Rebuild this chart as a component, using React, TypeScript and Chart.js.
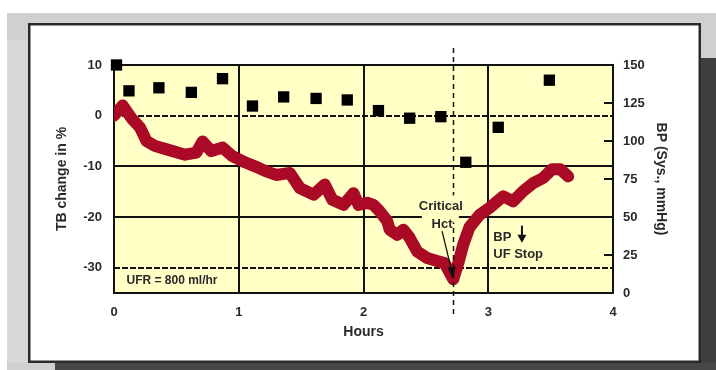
import React, { useEffect, useRef } from "react";
import { Chart, registerables } from "chart.js";

Chart.register(...registerables);

// ---- data ----
const HOURS = [
  0.0, 0.07, 0.14, 0.21, 0.26, 0.33, 0.43, 0.57, 0.66, 0.71, 0.78, 0.87, 0.95,
  1.05, 1.13, 1.22, 1.3, 1.41, 1.49, 1.6, 1.69, 1.75, 1.84, 1.92, 1.96, 2.03,
  2.08, 2.13, 2.19, 2.21, 2.27, 2.32, 2.37, 2.43, 2.51, 2.59, 2.65, 2.72, 2.76,
  2.8, 2.85, 2.93, 3.01, 3.12, 3.2, 3.28, 3.36, 3.44, 3.51, 3.58, 3.64,
];
const TB_CHANGE = [
  0.0, 2.0, -0.5, -2.4, -5.0, -6.0, -6.7, -7.7, -7.3, -5.1, -7.0, -6.3, -8.0,
  -9.2, -10.0, -11.0, -11.7, -11.3, -14.3, -15.6, -13.6, -16.6, -17.6, -15.3,
  -17.6, -17.2, -17.6, -18.9, -20.8, -22.5, -23.5, -22.5, -24.1, -26.8, -28.1,
  -28.7, -29.1, -32.3, -29.1, -25.4, -22.0, -19.6, -18.2, -15.9, -16.9, -14.9,
  -13.3, -12.3, -10.6, -10.6, -12.0,
];
const BP_HOURS = [
  0.02, 0.12, 0.36, 0.62, 0.87, 1.11, 1.36, 1.62, 1.87, 2.12, 2.37, 2.62, 2.82,
  3.08, 3.49,
];
const BP_SYS = [150, 133, 135, 132, 141, 123, 129, 128, 127, 120, 115, 116, 86, 109, 140];

const HOUR_TICKS = [0, 1, 2, 3, 4];
const TB_TICKS = [-30, -20, -10, 0, 10];
const BP_TICKS = [0, 25, 50, 75, 100, 125, 150];
const DASHED_TB_LINES = [0, -30];
const CRITICAL_HOUR = 2.72;

const FONT = "'Liberation Sans', Arial, Helvetica, sans-serif";
const TEXT = "#2a2a2a";

export default function App() {
  const ref = useRef<HTMLCanvasElement>(null);

  useEffect(() => {
    const canvas = ref.current;
    if (!canvas) return;

    const plugin = {
      id: "decor",
      beforeDraw(chart: any) {
        const ctx = chart.ctx;
        ctx.save();
        ctx.fillStyle = "#ffffff";
        ctx.fillRect(0, 0, 716, 370);
        ctx.fillStyle = "#d0d0d0";
        ctx.fillRect(7, 13, 709, 357);
        ctx.fillStyle = "#d8d8d8";
        ctx.fillRect(7, 40, 21, 323);
        ctx.fillStyle = "#3e3e3e";
        ctx.fillRect(701, 58, 15, 312);
        ctx.fillStyle = "#474747";
        ctx.fillRect(55, 363, 661, 7);
        ctx.fillStyle = "#ffffff";
        ctx.fillRect(28, 23, 673, 340);
        ctx.strokeStyle = "#2a2a2a";
        ctx.lineWidth = 2.5;
        ctx.strokeRect(29.25, 24.25, 670.5, 337.5);
        ctx.restore();
      },
      beforeDatasetsDraw(chart: any) {
        const ctx = chart.ctx;
        const { left, right, top, bottom } = chart.chartArea;
        const xs = chart.scales.x;
        const ys = chart.scales.y;
        const y2 = chart.scales.y2;
        ctx.save();
        ctx.fillStyle = "#FFFFC6";
        ctx.fillRect(left, top, right - left, bottom - top);
        ctx.strokeStyle = "#111";
        ctx.lineWidth = 2;
        TB_TICKS.forEach((v) => {
          if (v <= ys.min || v >= ys.max) return;
          const py = Math.round(ys.getPixelForValue(v));
          ctx.setLineDash(DASHED_TB_LINES.includes(v) ? [6, 2] : []);
          ctx.beginPath();
          ctx.moveTo(left, py);
          ctx.lineTo(right, py);
          ctx.stroke();
        });
        ctx.setLineDash([]);
        HOUR_TICKS.forEach((v) => {
          if (v <= xs.min || v >= xs.max) return;
          const px = Math.round(xs.getPixelForValue(v));
          ctx.beginPath();
          ctx.moveTo(px, top);
          ctx.lineTo(px, bottom);
          ctx.stroke();
        });
        BP_TICKS.forEach((v) => {
          if (v <= y2.min || v >= y2.max) return;
          const py = Math.round(y2.getPixelForValue(v));
          ctx.beginPath();
          ctx.moveTo(right - 9, py);
          ctx.lineTo(right, py);
          ctx.stroke();
        });
        ctx.lineWidth = 2;
        ctx.strokeRect(left, top, right - left, bottom - top);
        ctx.restore();
      },
      afterDatasetsDraw(chart: any) {
        const ctx = chart.ctx;
        const { left, right, top, bottom } = chart.chartArea;
        const xs = chart.scales.x;
        const ys = chart.scales.y;
        ctx.save();

        // critical vertical dashed line
        const cx = Math.round(xs.getPixelForValue(CRITICAL_HOUR)) + 0.5;
        ctx.strokeStyle = "#111";
        ctx.lineWidth = 1.5;
        ctx.setLineDash([5, 4]);
        ctx.beginPath();
        ctx.moveTo(cx, top - 17);
        ctx.lineTo(cx, bottom + 25);
        ctx.stroke();
        ctx.setLineDash([]);

        // Critical Hct label
        const lx = xs.getPixelForValue(2.62);
        const ly1 = ys.getPixelForValue(-17.9);
        const ly2 = ys.getPixelForValue(-21.4);
        ctx.fillStyle = "#FFFFC6";
        ctx.fillRect(lx - 19, ly1 - 11, 37, 27);
        ctx.fillStyle = TEXT;
        ctx.font = `bold 13px ${FONT}`;
        ctx.textAlign = "center";
        ctx.textBaseline = "middle";
        ctx.fillText("Critical", lx, ly1);
        ctx.fillText("Hct", xs.getPixelForValue(2.63), ly2);

        // arrow to minimum
        const ax0 = xs.getPixelForValue(2.63);
        const ay0 = ys.getPixelForValue(-22.8);
        const ax1 = xs.getPixelForValue(2.715);
        const ay1 = ys.getPixelForValue(-32.2);
        ctx.strokeStyle = "#111";
        ctx.lineWidth = 1.3;
        ctx.beginPath();
        ctx.moveTo(ax0, ay0);
        ctx.lineTo(ax1 - 1, ay1 - 8);
        ctx.stroke();
        ctx.fillStyle = "#111";
        ctx.beginPath();
        ctx.moveTo(ax1, ay1);
        ctx.lineTo(ax1 - 5, ay1 - 11);
        ctx.lineTo(ax1 + 3, ay1 - 12);
        ctx.closePath();
        ctx.fill();

        // BP down / UF stop
        ctx.fillStyle = TEXT;
        ctx.textAlign = "left";
        ctx.font = `bold 13px ${FONT}`;
        const bx = xs.getPixelForValue(3.04);
        ctx.fillText("BP", bx, ys.getPixelForValue(-24.1));
        ctx.fillText("UF Stop", bx, ys.getPixelForValue(-27.4));
        const dx = xs.getPixelForValue(3.27);
        const dy0 = ys.getPixelForValue(-21.7);
        const dy1 = ys.getPixelForValue(-25.1);
        ctx.strokeStyle = "#111";
        ctx.lineWidth = 2;
        ctx.beginPath();
        ctx.moveTo(dx, dy0);
        ctx.lineTo(dx, dy1 - 5);
        ctx.stroke();
        ctx.fillStyle = "#111";
        ctx.beginPath();
        ctx.moveTo(dx - 4.5, dy1 - 8);
        ctx.lineTo(dx + 4.5, dy1 - 8);
        ctx.lineTo(dx, dy1);
        ctx.closePath();
        ctx.fill();

        // UFR note
        ctx.fillStyle = TEXT;
        ctx.font = `bold 12px ${FONT}`;
        ctx.fillText("UFR = 800 ml/hr", xs.getPixelForValue(0.1), ys.getPixelForValue(-32.5));

        // axis titles
        ctx.font = `bold 14px ${FONT}`;
        ctx.textAlign = "center";
        ctx.fillText("Hours", (left + right) / 2, 332);
        ctx.save();
        ctx.translate(62, (top + bottom) / 2);
        ctx.rotate(-Math.PI / 2);
        ctx.fillText("TB change in %", 0, 0);
        ctx.restore();
        ctx.save();
        ctx.translate(661, (top + bottom) / 2);
        ctx.rotate(Math.PI / 2);
        ctx.fillText("BP (Sys., mmHg)", 0, 0);
        ctx.restore();

        ctx.restore();
      },
    };

    const tickFont = { family: FONT, size: 13, weight: "bold" as const };

    const chart = new Chart(canvas, {
      type: "line",
      data: {
        datasets: [
          {
            label: "BP",
            data: BP_HOURS.map((h, i) => ({ x: h, y: BP_SYS[i] })),
            yAxisID: "y2",
            showLine: false,
            pointStyle: "rect",
            pointRadius: 8,
            pointHoverRadius: 8,
            pointBackgroundColor: "#000",
            pointBorderWidth: 0,
            borderColor: "#000",
            clip: false,
          },
          {
            label: "TB change",
            data: HOURS.map((h, i) => ({ x: h, y: TB_CHANGE[i] })),
            yAxisID: "y",
            borderColor: "#AA0A26",
            borderWidth: 12,
            borderJoinStyle: "round",
            borderCapStyle: "round",
            pointRadius: 0,
            tension: 0,
            fill: false,
          },
        ],
      },
      options: {
        responsive: false,
        animation: false,
        events: [],
        layout: { padding: { top: 65, left: 0, right: 0, bottom: 0 } },
        plugins: { legend: { display: false }, tooltip: { enabled: false } },
        scales: {
          x: {
            type: "linear",
            min: 0,
            max: 4,
            afterBuildTicks: (s: any) => {
              s.ticks = HOUR_TICKS.map((v) => ({ value: v }));
            },
            afterFit: (s: any) => {
              s.height = 77;
            },
            grid: { display: false, drawTicks: false },
            border: { display: false },
            ticks: { color: TEXT, font: tickFont, padding: 12, maxRotation: 0 },
          },
          y: {
            type: "linear",
            position: "left",
            min: -35,
            max: 10,
            afterBuildTicks: (s: any) => {
              s.ticks = TB_TICKS.map((v) => ({ value: v }));
            },
            afterFit: (s: any) => {
              s.width = 114;
            },
            grid: { display: false, drawTicks: false },
            border: { display: false },
            ticks: { color: TEXT, font: tickFont, padding: 12 },
          },
          y2: {
            type: "linear",
            position: "right",
            min: 0,
            max: 150,
            afterBuildTicks: (s: any) => {
              s.ticks = BP_TICKS.map((v) => ({ value: v }));
            },
            afterFit: (s: any) => {
              s.width = 103;
            },
            grid: { display: false, drawTicks: false },
            border: { display: false },
            ticks: { color: TEXT, font: tickFont, padding: 10 },
          },
        },
      },
      plugins: [plugin],
    } as any);

    return () => chart.destroy();
  }, []);

  return (
    <div style={{ position: "absolute", left: 0, top: 0, width: 716, height: 370 }}>
      <canvas ref={ref} width={716} height={370} style={{ display: "block" }} />
    </div>
  );
}
